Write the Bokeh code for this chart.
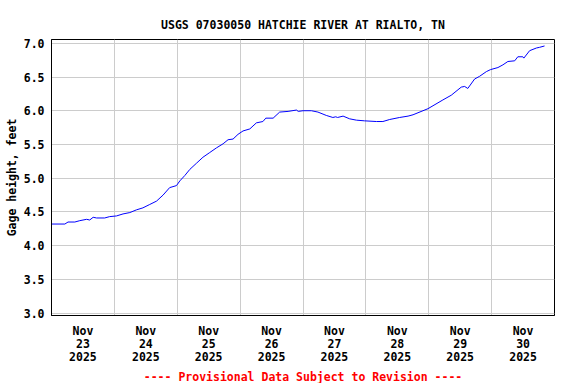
import pandas as pd
from bokeh.plotting import figure
from bokeh.models import Range1d, FixedTicker, DatetimeTickFormatter, Title, PrintfTickFormatter
from bokeh.embed import file_html
from bokeh.resources import INLINE

# ---- data (hours after 2025-11-23 00:00, gage height in feet) ----
hours = [0.0, 5.1, 6.3, 8.9, 10.8, 13.4, 14.6, 15.9, 17.2, 20.3, 22.2, 24.8, 27.3, 29.9,
         32.4, 34.9, 37.5, 40.1, 42.6, 45.1, 47.7, 49.0, 50.9, 52.8, 55.3, 57.8, 60.4,
         63.0, 65.5, 67.4, 69.3, 71.2, 73.1, 75.7, 78.2, 80.7, 81.8, 84.6, 87.1, 90.3,
         93.5, 94.2, 96.0, 99.2, 101.7, 104.9, 107.4, 108.5, 109.2, 111.3, 113.8, 116.4,
         119.5, 124.0, 126.5, 129.1, 132.9, 136.1, 138.0, 143.7, 149.4, 152.6, 156.4,
         157.7, 158.9, 161.5, 163.4, 166.0, 167.6, 170.4, 172.3, 174.2, 176.8, 178.0,
         179.9, 180.3, 182.5, 185.1, 186.3, 188.2]
gage = [4.32, 4.32, 4.35, 4.35, 4.37, 4.39, 4.38, 4.42, 4.41, 4.41, 4.43, 4.44, 4.47, 4.49,
        4.53, 4.56, 4.61, 4.66, 4.75, 4.86, 4.89, 4.96, 5.04, 5.13, 5.22, 5.31, 5.38,
        5.45, 5.51, 5.57, 5.58, 5.65, 5.70, 5.73, 5.82, 5.84, 5.89, 5.89, 5.98, 5.99,
        6.01, 5.99, 6.00, 6.00, 5.98, 5.93, 5.90, 5.91, 5.90, 5.92, 5.88, 5.86,
        5.85, 5.84, 5.84, 5.87, 5.90, 5.92, 5.94, 6.03, 6.16, 6.23, 6.35,
        6.36, 6.33, 6.47, 6.51, 6.58, 6.61, 6.64, 6.68, 6.73, 6.74, 6.80,
        6.80, 6.78, 6.89, 6.93, 6.94, 6.96]
days = ["2025-11-23", "2025-11-24", "2025-11-25", "2025-11-26",
        "2025-11-27", "2025-11-28", "2025-11-29", "2025-11-30"]
y_ticks = [3.0, 3.5, 4.0, 4.5, 5.0, 5.5, 6.0, 6.5, 7.0]

title_text = "USGS 07030050 HATCHIE RIVER AT RIALTO, TN"
y_label = "Gage height, feet"
note_text = "---- Provisional Data Subject to Revision ----"

start = pd.Timestamp("2025-11-23 00:00")
times = [start + pd.Timedelta(hours=h) for h in hours]

def ms(ts):
    return (pd.Timestamp(ts) - pd.Timestamp("1970-01-01")) / pd.Timedelta(milliseconds=1)

noon_ticks = [ms(pd.Timestamp(d) + pd.Timedelta(hours=12)) for d in days]
midnight_ticks = [ms(pd.Timestamp(d)) for d in days] + [ms(pd.Timestamp("2025-12-01"))]

FONT = "DejaVu Sans Mono"
FS = "11.5px"

p = figure(frame_width=503, frame_height=276, x_axis_type="datetime",
           output_backend="svg", toolbar_location=None, title=None,
           x_range=Range1d(ms("2025-11-23"), ms("2025-12-01")),
           y_range=Range1d(2.964, 7.056),
           min_border_left=51, min_border_right=20, min_border_top=39, min_border_bottom=0)

p.line(times, gage, line_color="#0000ff", line_width=1)

p.outline_line_color = "black"
p.outline_line_width = 1

# x axis
xa = p.xaxis[0]
xa.ticker = FixedTicker(ticks=noon_ticks)
fmt = "%b\n%d\n%Y"
xa.formatter = DatetimeTickFormatter(microseconds=fmt, milliseconds=fmt, seconds=fmt,
                                     minsec=fmt, minutes=fmt, hourmin=fmt, hours=fmt,
                                     days=fmt, months=fmt, years=fmt)
xa.major_tick_line_color = None
xa.minor_tick_line_color = None
xa.major_tick_out = 0
xa.major_tick_in = 0
xa.axis_line_color = "black"
xa.major_label_standoff = 8
xa.major_label_text_font = FONT
xa.major_label_text_font_style = "bold"
xa.major_label_text_font_size = FS
xa.major_label_text_color = "black"
xa.major_label_text_line_height = 0.95

# y axis
ya = p.yaxis[0]
ya.ticker = FixedTicker(ticks=y_ticks)
ya.formatter = PrintfTickFormatter(format="%.1f")
ya.major_tick_line_color = None
ya.minor_tick_line_color = None
ya.major_tick_out = 0
ya.major_tick_in = 0
ya.axis_line_color = "black"
ya.major_label_standoff = 7
ya.major_label_text_font = FONT
ya.major_label_text_font_style = "bold"
ya.major_label_text_font_size = FS
ya.major_label_text_color = "black"
ya.axis_label = y_label
ya.axis_label_text_font = FONT
ya.axis_label_text_font_style = "bold"
ya.axis_label_text_font_size = FS
ya.axis_label_text_color = "black"
ya.axis_label_standoff = 2

# grids
p.xgrid.ticker = FixedTicker(ticks=midnight_ticks)
p.xgrid.grid_line_color = "#cccccc"
p.ygrid.grid_line_color = "#cccccc"

# title
main_title = Title(text=title_text, align="center", text_font=FONT, text_font_style="bold",
                   text_font_size=FS, text_color="black", standoff=16)
p.add_layout(main_title, "above")

note = Title(text=note_text, align="center", text_font=FONT, text_font_style="bold",
             text_font_size=FS, text_color="#ff0000", standoff=0)
p.add_layout(note, "below")

open("out.html", "w").write(file_html(p, INLINE))
